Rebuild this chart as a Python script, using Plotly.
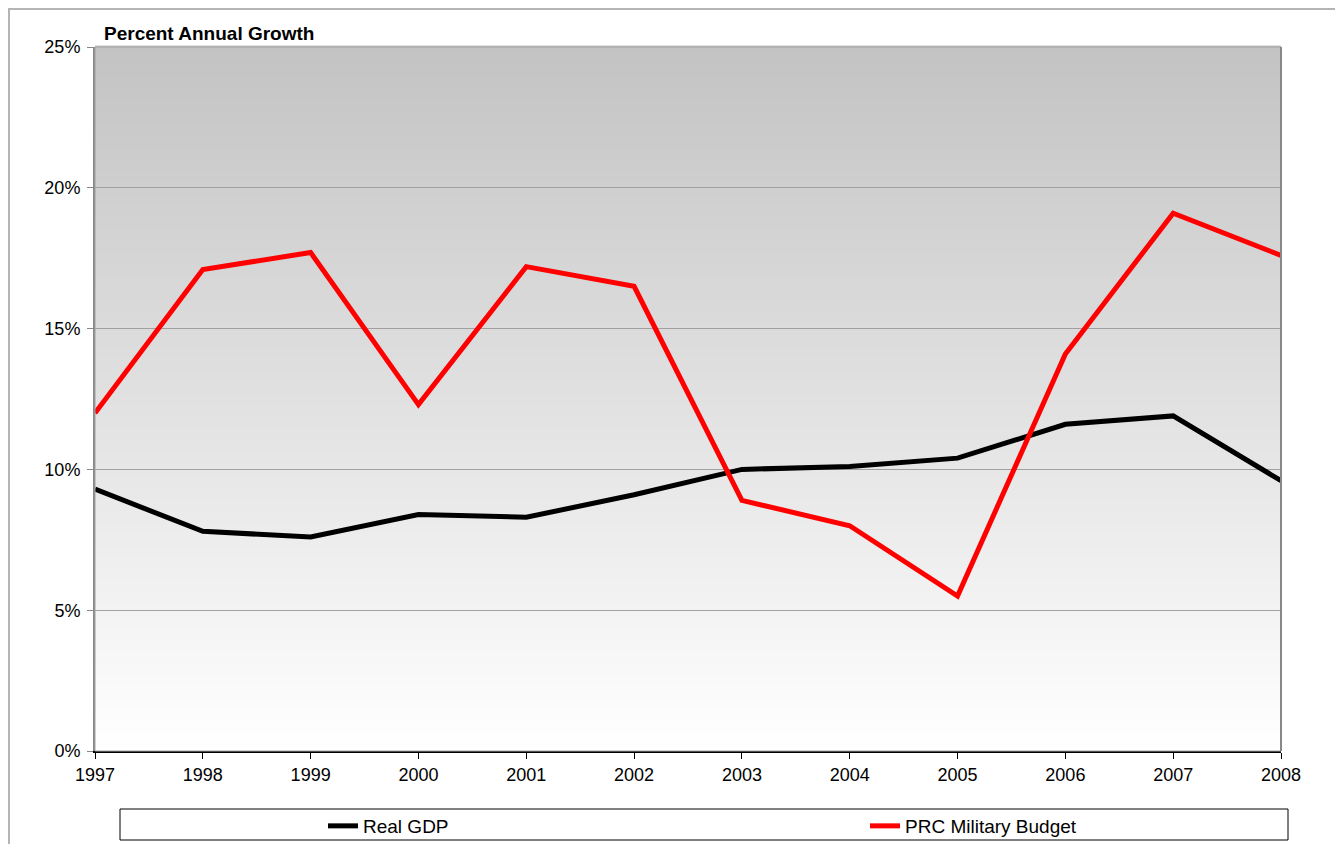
import plotly.graph_objects as go

years = [1997, 1998, 1999, 2000, 2001, 2002, 2003, 2004, 2005, 2006, 2007, 2008]
real_gdp = [9.3, 7.8, 7.6, 8.4, 8.3, 9.1, 10.0, 10.1, 10.4, 11.6, 11.9, 9.6]
prc_military = [12.0, 17.1, 17.7, 12.3, 17.2, 16.5, 8.9, 8.0, 5.5, 14.1, 19.1, 17.6]
y_ticks = [0, 5, 10, 15, 20, 25]
y_tick_labels = ["0%", "5%", "10%", "15%", "20%", "25%"]

OFF = 8  # page body margin
W, H = 1343 - OFF, 844 - OFF
L, R, T, B = 95 - OFF, 1281 - OFF, 47 - OFF, 751 - OFF


def px(x):
    return (x - OFF - L) / (R - L)


def py(y):
    return (B - (y - OFF)) / (B - T)


fig = go.Figure()
fig.add_trace(go.Scatter(x=years, y=real_gdp, mode="lines", name="Real GDP",
                         line=dict(color="#000000", width=5), legend="legend"))
fig.add_trace(go.Scatter(x=years, y=prc_military, mode="lines", name="PRC Military Budget",
                         line=dict(color="#ff0000", width=5), legend="legend2"))

shapes = []
# vertical gradient background in plot area
n = 120
top_c, bot_c = 0xC3, 0xFF
for i in range(n):
    f = (i + 0.5) / n
    v = round(bot_c + (top_c - bot_c) * f)
    col = f"rgb({v},{v},{v})"
    shapes.append(dict(type="rect", xref="x domain", yref="y domain",
                       x0=0, x1=1, y0=i / n, y1=(i + 1) / n + 0.002,
                       fillcolor=col, line=dict(width=0), layer="below"))
# plot area border (gray)
shapes.append(dict(type="rect", xref="x domain", yref="y domain", x0=0, x1=1, y0=0, y1=1,
                   line=dict(color="#a0a0a0", width=1), fillcolor="rgba(0,0,0,0)", layer="above"))
shapes.append(dict(type="line", xref="x domain", yref="y domain", x0=1, x1=1, y0=0, y1=1,
                   line=dict(color="#888888", width=2), layer="above"))
# outer chart border
shapes.append(dict(type="rect", xref="paper", yref="paper",
                   x0=px(9), x1=px(1342), y0=py(900), y1=py(9),
                   line=dict(color="#b4b4b4", width=2), fillcolor="rgba(0,0,0,0)", layer="below"))
# legend box
shapes.append(dict(type="rect", xref="paper", yref="paper",
                   x0=px(120), x1=px(1288), y0=py(840), y1=py(809),
                   line=dict(color="#000000", width=1), fillcolor="white", layer="below"))

legend_common = dict(orientation="h", yanchor="middle", xanchor="left",
                     bgcolor="rgba(0,0,0,0)", font=dict(size=19), itemwidth=30)

fig.update_layout(
    width=W, height=H,
    margin=dict(l=L, r=W - R, t=T, b=H - B, autoexpand=False),
    paper_bgcolor="white",
    plot_bgcolor="rgba(0,0,0,0)",
    font=dict(family="Liberation Sans, Arial, sans-serif", size=18, color="#000000"),
    shapes=shapes,
    showlegend=True,
    legend=dict(x=px(323), y=py(826), **legend_common),
    legend2=dict(x=px(865), y=py(826), **legend_common),
    annotations=[dict(text="<b>Percent Annual Growth</b>", xref="paper", yref="paper",
                      x=px(102), y=py(33), xanchor="left", yanchor="middle",
                      showarrow=False, font=dict(size=19))],
)
fig.update_xaxes(range=[years[0], years[-1]], tickvals=years, ticktext=[str(y) for y in years],
                 showgrid=False, zeroline=False, showline=True, linecolor="#000000", linewidth=2,
                 ticks="outside", ticklen=6, tickcolor="#000000", tickwidth=1,
                 tickfont=dict(size=18))
fig.update_yaxes(range=[0, 25], tickvals=y_ticks, ticktext=y_tick_labels,
                 showgrid=True, gridcolor="#a0a0a0", gridwidth=1, zeroline=False,
                 showline=True, linecolor="#888888", linewidth=2,
                 ticks="outside", ticklen=6, tickcolor="#888888", tickwidth=1,
                 ticklabelstandoff=3, tickfont=dict(size=18))

fig.write_html("out.html")
